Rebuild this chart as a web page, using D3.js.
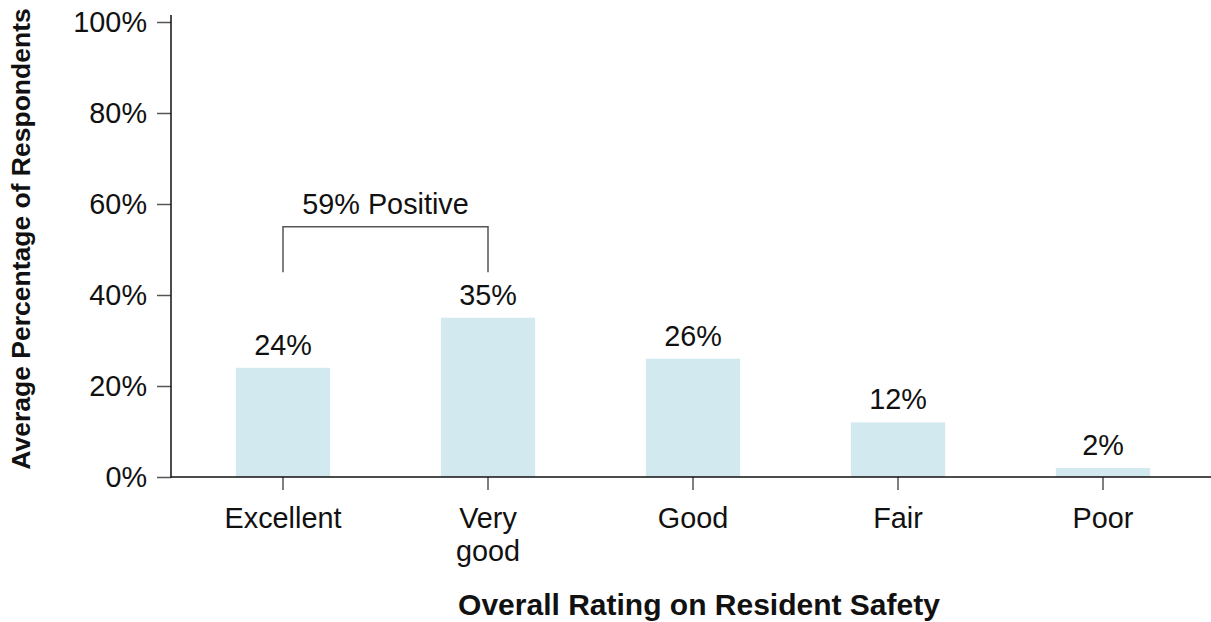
<!DOCTYPE html>
<html>
<head>
<meta charset="utf-8">
<script src="https://cdn.jsdelivr.net/npm/d3@7"></script>
<style>
  body { margin: 0; background: #fff; }
  svg text { font-family: "Liberation Sans", Arial, sans-serif; fill: #111; }
</style>
</head>
<body>
<svg id="chart" width="1211" height="622"></svg>
<script>
// data
const categories = ["Excellent", "Very good", "Good", "Fair", "Poor"];
const catLines = [["Excellent"], ["Very", "good"], ["Good"], ["Fair"], ["Poor"]];
const percents = [0.24, 0.35, 0.26, 0.12, 0.02];
const yTicks = [0, 0.2, 0.4, 0.6, 0.8, 1.0];
const bracketCats = ["Excellent", "Very good"];
const bracketLabel = "59% Positive";

const svg = d3.select("#chart");
const axisLeftX = 171, axisBottomY = 477;
const labelSize = "28.8px";

var x = d3.scaleBand().domain(categories).range([180.5, 1205.5])
    .paddingInner(0.54).paddingOuter(0.27);
var y = d3.scaleLinear().domain([0, 1]).range([axisBottomY, 22]);

// bars
svg.selectAll(".bar").data(categories).enter().append("rect")
    .attr("class", "bar")
    .attr("x", d => x(d))
    .attr("width", x.bandwidth())
    .attr("y", (d, i) => y(percents[i]))
    .attr("height", (d, i) => y(0) - y(percents[i]))
    .attr("fill", "#d3e9f0");

// value labels
svg.selectAll(".val").data(categories).enter().append("text")
    .attr("class", "val")
    .attr("x", d => x(d) + x.bandwidth() / 2)
    .attr("y", (d, i) => y(percents[i]) - 13)
    .attr("text-anchor", "middle")
    .attr("font-size", labelSize)
    .text((d, i) => d3.format(".0%")(percents[i]));

// y axis
var yAxis = svg.append("g").attr("transform", "translate(" + axisLeftX + ",0)")
    .call(d3.axisLeft(y).tickValues(yTicks).tickFormat(d3.format(".0%")).tickSize(14).tickPadding(10));
yAxis.select(".domain").remove();
yAxis.selectAll(".tick line").attr("stroke", "#555").attr("stroke-width", 1.5);
yAxis.selectAll(".tick text").attr("font-size", labelSize).attr("fill", "#111")
    .attr("font-family", "Liberation Sans, Arial, sans-serif");
svg.append("line").attr("x1", axisLeftX).attr("x2", axisLeftX)
    .attr("y1", 15).attr("y2", axisBottomY + 0.75)
    .attr("stroke", "#111").attr("stroke-width", 1.5);

// x axis
var xAxis = svg.append("g").attr("transform", "translate(0," + axisBottomY + ")")
    .call(d3.axisBottom(x).tickSize(13).tickFormat(""));
xAxis.select(".domain").remove();
xAxis.selectAll(".tick line").attr("stroke", "#555").attr("stroke-width", 1.5);
svg.append("line").attr("x1", axisLeftX).attr("x2", 1211)
    .attr("y1", axisBottomY).attr("y2", axisBottomY)
    .attr("stroke", "#111").attr("stroke-width", 1.5);

// category labels (multi-line)
var catG = svg.selectAll(".cat").data(categories).enter().append("text")
    .attr("class", "cat")
    .attr("text-anchor", "middle")
    .attr("font-size", labelSize);
catG.each(function(d, i) {
    var t = d3.select(this);
    catLines[i].forEach(function(line, j) {
        t.append("tspan")
            .attr("x", x(d) + x.bandwidth() / 2)
            .attr("y", 528 + j * 33)
            .text(line);
    });
});

// bracket annotation
var bx1 = x(bracketCats[0]) + x.bandwidth() / 2;
var bx2 = x(bracketCats[1]) + x.bandwidth() / 2;
svg.append("path")
    .attr("d", d3.line()([[bx1, y(0.45)], [bx1, y(0.55)], [bx2, y(0.55)], [bx2, y(0.45)]]))
    .attr("fill", "none").attr("stroke", "#555").attr("stroke-width", 1.5);
svg.append("text")
    .attr("x", (bx1 + bx2) / 2)
    .attr("y", 214)
    .attr("text-anchor", "middle")
    .attr("font-size", labelSize)
    .text(bracketLabel);

// axis titles
svg.append("text")
    .attr("x", 699).attr("y", 615)
    .attr("text-anchor", "middle")
    .attr("font-size", "30px").attr("font-weight", "bold")
    .text("Overall Rating on Resident Safety");
svg.append("text")
    .attr("transform", "translate(30,239) rotate(-90)")
    .attr("text-anchor", "middle")
    .attr("font-size", "26.5px").attr("font-weight", "bold")
    .text("Average Percentage of Respondents");
</script>
</body>
</html>
